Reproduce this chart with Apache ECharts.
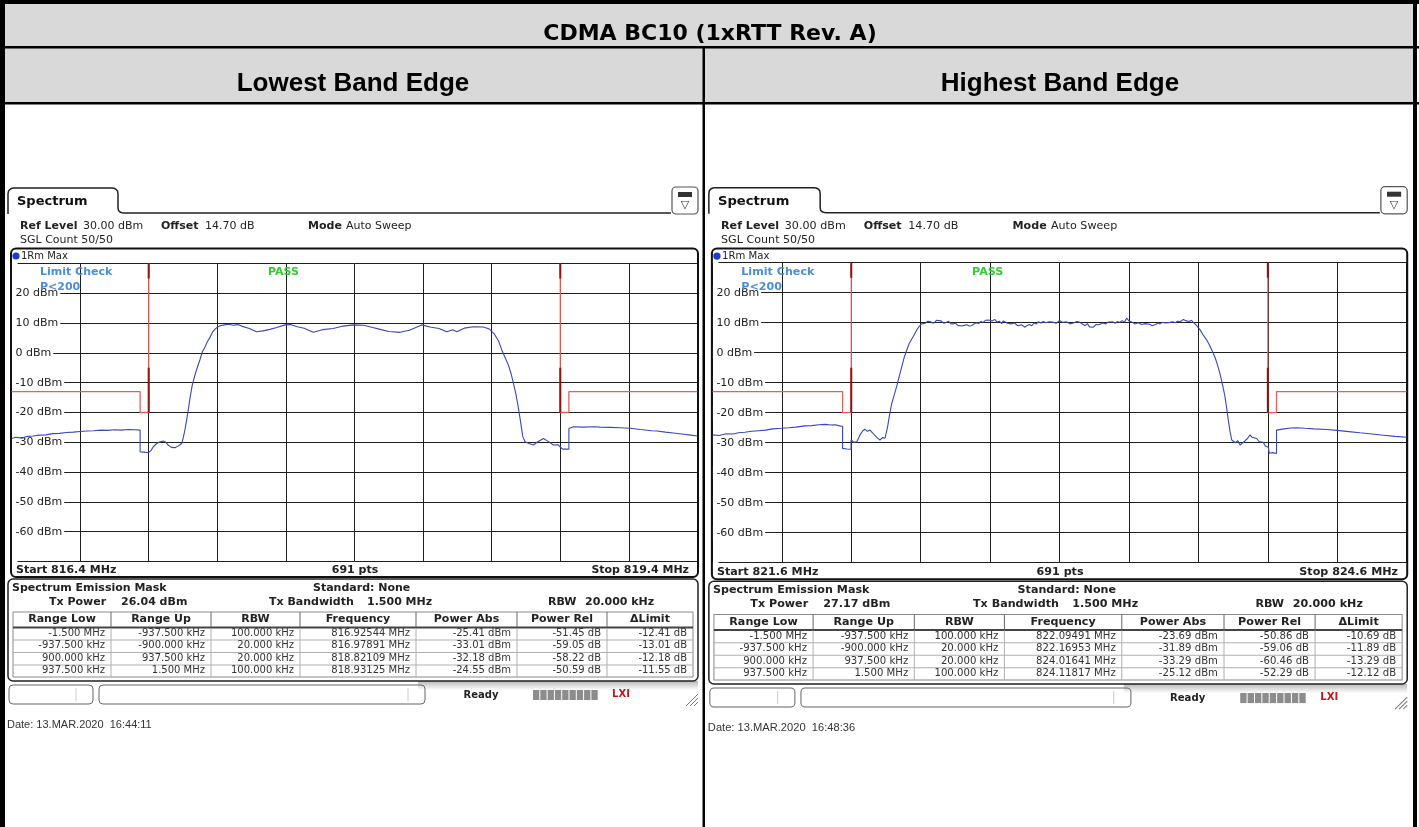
<!DOCTYPE html>
<html><head><meta charset="utf-8">
<script src="https://cdn.jsdelivr.net/npm/echarts@6/dist/echarts.min.js"></script>
<style>html,body{margin:0;padding:0;background:#fff;}#c{width:1419px;height:827px;}</style>
</head><body><div id="c"></div>
<script>
// ---------------- data ----------------
const pageTitle = 'CDMA BC10 (1xRTT Rev. A)';
const columnTitles = ['Lowest Band Edge', 'Highest Band Edge'];
const lowCenterMHz = 817.9;
const highCenterMHz = 823.1;
// trace: [MHz, dBm]
const lowTrace = [[816.400,-28.7],[816.420,-28.3],[816.445,-28.6],[816.470,-28.0],[816.495,-27.9],[816.520,-27.6],[816.550,-27.5],[816.580,-27.1],[816.610,-27.0],[816.640,-26.7],[816.670,-26.6],[816.700,-26.4],[816.730,-26.2],[816.760,-26.1],[816.790,-25.9],[816.820,-26.0],[816.850,-25.8],[816.880,-25.9],[816.910,-25.7],[816.940,-25.8],[816.9625,-25.9],[816.9625,-33.2],[816.980,-33.3],[816.998,-33.5],[817.010,-32.8],[817.020,-31.5],[817.035,-30.4],[817.050,-29.8],[817.064,-29.6],[817.075,-30.0],[817.086,-31.0],[817.100,-31.7],[817.115,-31.8],[817.130,-31.2],[817.145,-30.3],[817.151,-28.5],[817.158,-26.0],[817.166,-22.5],[817.173,-19.2],[817.180,-15.5],[817.190,-11.0],[817.202,-7.5],[817.213,-4.8],[817.224,-2.3],[817.235,0.4],[817.246,2.0],[817.257,3.8],[817.268,5.2],[817.279,7.0],[817.290,8.0],[817.300,8.6],[817.312,9.1],[817.330,9.4],[817.350,9.6],[817.370,9.3],[817.390,9.5],[817.410,8.9],[817.440,8.2],[817.472,7.1],[817.500,7.4],[817.530,7.9],[817.560,8.5],[817.596,9.4],[817.620,9.5],[817.650,8.8],[817.680,8.3],[817.720,6.9],[817.760,7.8],[817.807,8.2],[817.850,9.0],[817.895,9.4],[817.940,9.3],[817.980,8.5],[818.012,7.9],[818.050,7.2],[818.099,6.9],[818.140,7.6],[818.194,9.4],[818.230,8.7],[818.270,8.2],[818.303,7.1],[818.330,7.8],[818.347,7.1],[818.380,8.3],[818.420,8.8],[818.463,8.7],[818.490,8.0],[818.510,6.5],[818.530,4.0],[818.544,1.0],[818.560,-1.8],[818.573,-4.1],[818.585,-7.0],[818.595,-10.2],[818.605,-13.5],[818.616,-18.1],[818.626,-23.0],[818.636,-28.1],[818.646,-29.8],[818.660,-30.3],[818.682,-30.9],[818.700,-29.9],[818.726,-28.7],[818.745,-29.6],[818.770,-30.9],[818.790,-30.8],[818.799,-31.5],[818.810,-32.3],[818.8375,-32.3],[818.8375,-25.4],[818.857,-24.8],[818.900,-24.9],[818.950,-24.8],[818.974,-24.9],[819.020,-25.0],[819.060,-25.1],[819.105,-25.3],[819.150,-25.7],[819.200,-26.1],[819.222,-26.2],[819.260,-26.6],[819.294,-26.9],[819.340,-27.3],[819.370,-27.6],[819.400,-27.9]];
const highTrace = [[821.600,-27.4],[821.630,-27.6],[821.660,-27.0],[821.690,-27.1],[821.712,-26.7],[821.740,-26.5],[821.770,-26.2],[821.800,-26.0],[821.830,-25.8],[821.860,-25.4],[821.899,-25.2],[821.930,-25.0],[821.960,-24.8],[822.000,-24.4],[822.030,-24.3],[822.060,-24.0],[822.087,-23.9],[822.110,-24.1],[822.130,-24.0],[822.150,-24.4],[822.1625,-24.5],[822.1625,-31.9],[822.180,-32.1],[822.199,-32.2],[822.199,-29.0],[822.210,-29.8],[822.224,-29.7],[822.238,-27.4],[822.250,-26.0],[822.259,-25.5],[822.270,-26.2],[822.281,-25.8],[822.295,-27.0],[822.310,-28.2],[822.324,-29.1],[822.335,-28.3],[822.346,-28.5],[822.357,-24.7],[822.366,-20.5],[822.375,-16.9],[822.386,-14.0],[822.396,-11.3],[822.407,-8.0],[822.418,-4.7],[822.429,-1.5],[822.440,0.9],[822.450,3.0],[822.461,4.5],[822.472,6.0],[822.483,7.6],[822.494,8.8],[822.504,9.6],[822.512,10.2],[822.520,9.8],[822.530,10.5],[822.540,10.4],[822.550,9.9],[822.560,10.0],[822.568,10.8],[822.576,10.3],[822.588,10.6],[822.600,9.8],[822.610,10.1],[822.620,10.5],[822.630,9.7],[822.640,9.6],[822.650,9.9],[822.660,9.1],[822.668,9.4],[822.677,8.9],[822.688,9.1],[822.700,9.3],[822.710,8.9],[822.720,9.0],[822.730,9.6],[822.740,10.0],[822.750,9.7],[822.760,10.4],[822.770,10.1],[822.780,10.8],[822.786,10.2],[822.792,10.9],[822.800,10.4],[822.810,10.6],[822.820,11.1],[822.830,10.2],[822.840,10.5],[822.850,9.7],[822.857,10.6],[822.864,10.3],[822.875,9.8],[822.890,9.6],[822.905,9.9],[822.920,9.0],[822.935,9.3],[822.951,8.5],[822.960,9.1],[822.970,9.4],[822.980,9.0],[822.990,9.9],[823.000,9.6],[823.008,10.3],[823.020,9.9],[823.030,10.4],[823.040,10.0],[823.055,10.3],[823.070,10.2],[823.085,9.8],[823.100,10.7],[823.115,10.1],[823.130,10.3],[823.145,9.6],[823.160,9.9],[823.175,10.4],[823.188,10.1],[823.200,9.5],[823.210,9.0],[823.220,9.7],[823.230,8.6],[823.238,9.2],[823.246,8.5],[823.258,9.4],[823.270,9.3],[823.285,9.9],[823.300,9.6],[823.310,10.2],[823.318,9.9],[823.330,10.3],[823.340,9.8],[823.350,10.4],[823.360,10.1],[823.370,10.7],[823.380,10.2],[823.390,11.5],[823.400,10.6],[823.410,10.3],[823.425,9.6],[823.440,10.0],[823.455,9.4],[823.470,9.7],[823.477,9.3],[823.490,9.5],[823.500,9.0],[823.515,9.4],[823.525,9.9],[823.534,9.6],[823.545,10.1],[823.560,9.9],[823.568,10.3],[823.577,10.1],[823.590,10.3],[823.600,10.0],[823.610,10.5],[823.622,10.3],[823.635,11.1],[823.648,10.6],[823.660,10.4],[823.670,10.8],[823.678,10.1],[823.690,9.3],[823.707,7.6],[823.714,8.0],[823.720,6.0],[823.728,5.4],[823.736,4.2],[823.743,3.6],[823.750,2.2],[823.757,1.0],[823.764,-0.2],[823.772,-1.6],[823.780,-3.5],[823.793,-6.9],[823.805,-11.0],[823.815,-14.7],[823.822,-18.5],[823.829,-22.4],[823.836,-26.0],[823.844,-29.1],[823.852,-29.7],[823.860,-30.0],[823.870,-29.3],[823.880,-30.8],[823.890,-30.1],[823.900,-29.5],[823.912,-28.6],[823.923,-27.4],[823.932,-28.2],[823.940,-28.8],[823.952,-28.6],[823.962,-29.6],[823.970,-30.2],[823.980,-29.9],[823.990,-31.2],[824.002,-31.5],[824.006,-33.5],[824.020,-33.3],[824.0375,-33.6],[824.0375,-25.8],[824.070,-25.4],[824.100,-25.1],[824.125,-25.0],[824.160,-25.2],[824.200,-25.4],[824.254,-25.6],[824.300,-25.9],[824.350,-26.3],[824.398,-26.7],[824.450,-27.1],[824.500,-27.5],[824.550,-27.9],[824.600,-28.2]];
// emission mask, offsets from centre in kHz / dBm
const maskLower = [[-1500,-13],[-937.5,-13],[-937.5,-20],[-900,-20],[-900,30]];
const maskUpper = [[900,30],[900,-20],[937.5,-20],[937.5,-13],[1500,-13]];
const edgeMarkersKHz = [-900, 900];
const edgeMarkerSpans = [[30,25],[-5,-20]];
const spanKHz = [-1500, 1500, 300];
const levelDbm = [-70, 30, 10];
const semHeaders = ['Range Low','Range Up','RBW','Frequency','Power Abs','Power Rel','\u0394Limit'];
const lowRows = [
 ['-1.500 MHz','-937.500 kHz','100.000 kHz','816.92544 MHz','-25.41 dBm','-51.45 dB','-12.41 dB'],
 ['-937.500 kHz','-900.000 kHz','20.000 kHz','816.97891 MHz','-33.01 dBm','-59.05 dB','-13.01 dB'],
 ['900.000 kHz','937.500 kHz','20.000 kHz','818.82109 MHz','-32.18 dBm','-58.22 dB','-12.18 dB'],
 ['937.500 kHz','1.500 MHz','100.000 kHz','818.93125 MHz','-24.55 dBm','-50.59 dB','-11.55 dB']];
const highRows = [
 ['-1.500 MHz','-937.500 kHz','100.000 kHz','822.09491 MHz','-23.69 dBm','-50.86 dB','-10.69 dB'],
 ['-937.500 kHz','-900.000 kHz','20.000 kHz','822.16953 MHz','-31.89 dBm','-59.06 dB','-11.89 dB'],
 ['900.000 kHz','937.500 kHz','20.000 kHz','824.01641 MHz','-33.29 dBm','-60.46 dB','-13.29 dB'],
 ['937.500 kHz','1.500 MHz','100.000 kHz','824.11817 MHz','-25.12 dBm','-52.29 dB','-12.12 dB']];
const lowInfo = ['Start 816.4 MHz','691 pts','Stop 819.4 MHz','26.04 dBm','Date: 13.MAR.2020  16:44:11'];
const highInfo = ['Start 821.6 MHz','691 pts','Stop 824.6 MHz','27.17 dBm','Date: 13.MAR.2020  16:48:36'];

// ---------------- drawing ----------------
const F = '"DejaVu Sans", Verdana, sans-serif';
function T(x, y, s, o) {
  o = o || {};
  const al = o.align || 'left';
  return {type:'text', x:x, y:y, z:o.z || 5, silent:true,
    style:{text:s, font:(o.bold ? 'bold ' : '') + (o.size || 11) + 'px ' + (o.family || F),
      fill:o.color || '#222', textAlign:al, align:al, textVerticalAlign:'middle', verticalAlign:'middle'}};
}
function R(x, y, w, h, o) {
  o = o || {};
  return {type:'rect', z:o.z || 1, silent:true, shape:{x:x, y:y, width:w, height:h, r:o.r || 0},
    style:{fill:o.fill || 'none', stroke:o.stroke || 'none', lineWidth:o.lw || 1}};
}
function L(x1, y1, x2, y2, c, w, z) {
  return {type:'line', z:z || 2, silent:true, shape:{x1:x1, y1:y1, x2:x2, y2:y2}, style:{stroke:c, lineWidth:w || 1}};
}
function PL(pts, c, w, z) {
  return {type:'polyline', z:z || 2, silent:true, shape:{points:pts}, style:{stroke:c, lineWidth:w || 1, fill:'none'}};
}
const colSeps = [13,111,211,300,416,517,607,693];

function panel(info, rows) {
  const c = [];
  c.push(PL([[8,214],[8,194],[8.5,191],[10,189.3],[12,188.3],[14,188],[112,188],[114,188.3],[116,189.3],[117.5,191],[118,194],[118,208],[118.5,210.5],[120,212],[122,212.8],[124,213],[671,213]], '#222', 1.5));
  c.push(T(17, 202, 'Spectrum', {bold:true, size:13, color:'#111'}));
  c.push(R(672, 187, 26, 27, {r:4, stroke:'#555', fill:'#fff', lw:1.2}));
  c.push(R(678, 192, 14, 5, {fill:'#333'}));
  c.push(T(685, 205, '\u25BD', {size:11, align:'center', color:'#333'}));
  c.push(T(20, 226, 'Ref Level', {bold:true}));
  c.push(T(83, 226, '30.00 dBm'));
  c.push(T(161, 226, 'Offset', {bold:true}));
  c.push(T(205, 226, '14.70 dB'));
  c.push(T(308, 226, 'Mode', {bold:true}));
  c.push(T(346, 226, 'Auto Sweep'));
  c.push(T(20, 240, 'SGL Count 50/50'));
  // diagram frame
  c.push(R(11, 248.5, 687, 328.5, {r:5, stroke:'#111', lw:2, z:3}));
  c.push({type:'circle', z:4, silent:true, shape:{cx:16, cy:256, r:3.6}, style:{fill:'#1d3ccf'}});
  c.push(T(21, 256, '1Rm Max', {size:10}));
  c.push(T(40, 272, 'Limit Check', {bold:true, color:'#4a8fd8', z:1}));
  c.push(T(40, 287, 'P<200', {bold:true, color:'#4a8fd8', z:20}));
  c.push(T(268, 272, 'PASS', {bold:true, color:'#33cc33', z:1}));
  c.push(T(16, 570, info[0], {bold:true}));
  c.push(T(355, 570, info[1], {bold:true, align:'center'}));
  c.push(T(689, 570, info[2], {bold:true, align:'right'}));
  // SEM box
  c.push(R(8, 579, 690, 102, {r:5, stroke:'#222', lw:1.5}));
  c.push({type:'rect', z:0, silent:true, shape:{x:418, y:681, width:280, height:9},
    style:{fill:{type:'linear', x:0, y:0, x2:0, y2:1, colorStops:[{offset:0, color:'#b8b8b8'}, {offset:1, color:'#ffffff'}]}}});
  c.push(T(12, 588, 'Spectrum Emission Mask', {bold:true}));
  c.push(T(313, 588, 'Standard: None', {bold:true}));
  c.push(T(49, 602, 'Tx Power', {bold:true}));
  c.push(T(121, 602, info[3], {bold:true}));
  c.push(T(269, 602, 'Tx Bandwidth', {bold:true}));
  c.push(T(367, 602, '1.500 MHz', {bold:true}));
  c.push(T(548, 602, 'RBW', {bold:true}));
  c.push(T(585, 602, '20.000 kHz', {bold:true}));
  c.push(R(13, 612, 680, 65, {stroke:'#8a8a8a', lw:1}));
  c.push(L(13, 627.5, 693, 627.5, '#444', 2));
  [640, 652.5, 665].forEach(y => c.push(L(13, y, 693, y, '#b0b0b0', 1)));
  for (let i = 1; i < colSeps.length - 1; i++) {
    c.push(L(colSeps[i], 612, colSeps[i], 627, '#666', 1));
    c.push(L(colSeps[i], 628, colSeps[i], 677, '#b0b0b0', 1));
  }
  semHeaders.forEach((h, i) => c.push(T((colSeps[i] + colSeps[i + 1]) / 2, 619.5, h, {bold:true, align:'center'})));
  rows.forEach((r, j) => r.forEach((v, i) => c.push(T(colSeps[i + 1] - 6, 633.5 + j * 12.4, v, {size:10, align:'right', color:'#333'}))));
  // status bar
  c.push(R(9, 685, 84, 19, {r:4, stroke:'#666', lw:1}));
  c.push(L(76, 688, 76, 701, '#ccc', 1));
  c.push(R(99, 685, 326, 19, {r:4, stroke:'#666', lw:1}));
  c.push(L(408, 688, 408, 701, '#ccc', 1));
  c.push(T(481, 695, 'Ready', {bold:true, align:'center', size:10}));
  for (let i = 0; i < 9; i++) c.push(R(533 + i * 7.3, 690, 6.3, 10, {fill:'#8c8c8c'}));
  c.push(T(621, 694, 'LXI', {bold:true, size:10, align:'center', color:'#c4161c'}));
  [[686,706,698,694],[690,706,698,698],[694,706,698,702]].forEach(p => c.push(L(p[0], p[1], p[2], p[3], '#777', 1)));
  c.push(T(7, 725, info[4], {size:11, family:'"Liberation Sans", Arial, sans-serif', color:'#333'}));
  return c;
}

const graphics = [
  R(4, 4, 1410, 43, {fill:'#d9d9d9', z:0}),
  R(4, 48, 1410, 55, {fill:'#d9d9d9', z:0}),
  R(0, 0, 5, 827, {fill:'#000', z:10}),
  R(0, 0, 1419, 4, {fill:'#000', z:10}),
  R(1413, 0, 4, 827, {fill:'#000', z:10}),
  R(0, 46, 1419, 2.5, {fill:'#000', z:10}),
  R(0, 102, 1419, 2.5, {fill:'#000', z:10}),
  R(702.5, 46, 2.5, 781, {fill:'#000', z:10}),
  T(710, 34.5, pageTitle, {bold:true, size:22, align:'center', color:'#000'}),
  T(353, 83.5, columnTitles[0], {bold:true, size:26, align:'center', color:'#000', family:'"Liberation Sans", Arial, sans-serif'}),
  T(1060, 83.5, columnTitles[1], {bold:true, size:26, align:'center', color:'#000', family:'"Liberation Sans", Arial, sans-serif'}),
  {type:'group', x:0, y:0, children:panel(lowInfo, lowRows)},
  {type:'group', x:700.76, y:-1.6, scaleX:1.0121, scaleY:1.0067, children:panel(highInfo, highRows)}
];

const grids = [
  {left:11.5, top:263.5, width:686, height:298},
  {left:712.4, top:262.7, width:694.3, height:300}
];
function xAx(i) {
  return {type:'value', gridIndex:i, min:spanKHz[0], max:spanKHz[1], interval:spanKHz[2],
    axisLine:{show:false}, axisTick:{show:false}, axisLabel:{show:false},
    splitLine:{show:true, lineStyle:{color:'#1e1e1e', width:1}}};
}
function yAx(i) {
  return {type:'value', gridIndex:i, min:levelDbm[0], max:levelDbm[1], interval:levelDbm[2],
    axisLine:{show:false}, axisTick:{show:false},
    axisLabel:{inside:true, margin:0, padding:[1,2,1,4], backgroundColor:'#fff', color:'#222',
      fontFamily:'DejaVu Sans', fontSize:11,
      formatter: v => (v === levelDbm[0] || v === levelDbm[1]) ? '' : v + ' dBm'},
    splitLine:{show:true, lineStyle:{color:'#1e1e1e', width:1}}};
}
function toKHz(tr, c) { return tr.map(p => [Math.round((p[0] - c) * 1e6) / 1000, p[1]]); }
const series = [];
[[lowTrace, lowCenterMHz], [highTrace, highCenterMHz]].forEach((d, i) => {
  series.push({type:'line', xAxisIndex:i, yAxisIndex:i, data:maskLower, showSymbol:false, silent:true,
    lineStyle:{color:'#e0605c', width:1.3}, z:3});
  series.push({type:'line', xAxisIndex:i, yAxisIndex:i, data:maskUpper, showSymbol:false, silent:true,
    lineStyle:{color:'#e0605c', width:1.3}, z:3});
  edgeMarkersKHz.forEach(x => edgeMarkerSpans.forEach(s => series.push({type:'line', xAxisIndex:i, yAxisIndex:i,
    data:[[x, s[0]], [x, s[1]]], showSymbol:false, silent:true, lineStyle:{color:'#8e1212', width:2}, z:4})));
  series.push({type:'line', xAxisIndex:i, yAxisIndex:i, data:toKHz(d[0], d[1]), showSymbol:false, silent:true,
    lineStyle:{color:'#3849b4', width:1.1}, z:5});
});

const chart = echarts.init(document.getElementById('c'), null, {renderer:'canvas'});
chart.setOption({
  animation:false,
  backgroundColor:'#fff',
  grid:grids,
  xAxis:[xAx(0), xAx(1)],
  yAxis:[yAx(0), yAx(1)],
  graphic:{elements:graphics},
  series:series
});
</script>
</body></html>
